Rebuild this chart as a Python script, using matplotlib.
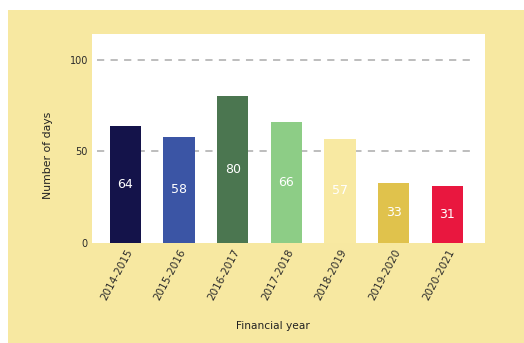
import matplotlib.pyplot as plt
from matplotlib.patches import Rectangle

years = ['2014-2015', '2015-2016', '2016-2017', '2017-2018',
         '2018-2019', '2019-2020', '2020-2021']
days = [64, 58, 80, 66, 57, 33, 31]
bar_colors = ['#14134a', '#3b55a5', '#4b7650', '#8dcd86',
              '#f8e9a2', '#e0c24c', '#e9173f']

bg = '#f7e8a1'
W, H = 524, 343

fig = plt.figure(figsize=(W / 100, H / 100), dpi=100, facecolor='white')
# yellow panel (screenshot is cropped, leaving a white strip top/left)
fig.patches.append(Rectangle((8 / W, 0), 1, (H - 10) / H, transform=fig.transFigure,
                             facecolor=bg, edgecolor='none', zorder=-1))

ax = fig.add_axes([92 / W, (H - 243) / H, (485 - 92) / W, (243 - 34) / H])
ax.set_facecolor('white')

x = list(range(len(years)))
ax.bar(x, days, width=0.58, color=bar_colors, edgecolor='none', zorder=2)
for xi, v in zip(x, days):
    ax.text(xi, v / 2, str(v), ha='center', va='center', color='white',
            fontsize=9, zorder=3)

ax.set_xlim(-0.62, 6.7)
ax.set_ylim(0, 114)
ax.set_yticks([0, 50, 100])
ax.set_yticklabels(['0', '50', '100'], fontsize=7, color='#2a2a2a')
for yv in [50, 100]:
    ax.plot([-0.53, 6.45], [yv, yv], color='#b8b8b8', linestyle=(0, (4, 3.5)),
            linewidth=1.3, zorder=1)

ax.set_xticks(x)
ax.set_xticklabels(years, rotation=62, ha='right', rotation_mode='anchor',
                   fontsize=7.5, color='#2a2a2a')
ax.tick_params(axis='both', length=0, pad=3)
for s in ax.spines.values():
    s.set_visible(False)

ax.set_ylabel('Number of days', fontsize=7.8, color='#222222')
ax.yaxis.set_label_coords(-0.1, 0.42)
ax.set_xlabel('Financial year', fontsize=7.7, color='#222222')
ax.xaxis.set_label_coords(0.46, -0.375)

fig.savefig('out.png', dpi=100, facecolor=fig.get_facecolor())
